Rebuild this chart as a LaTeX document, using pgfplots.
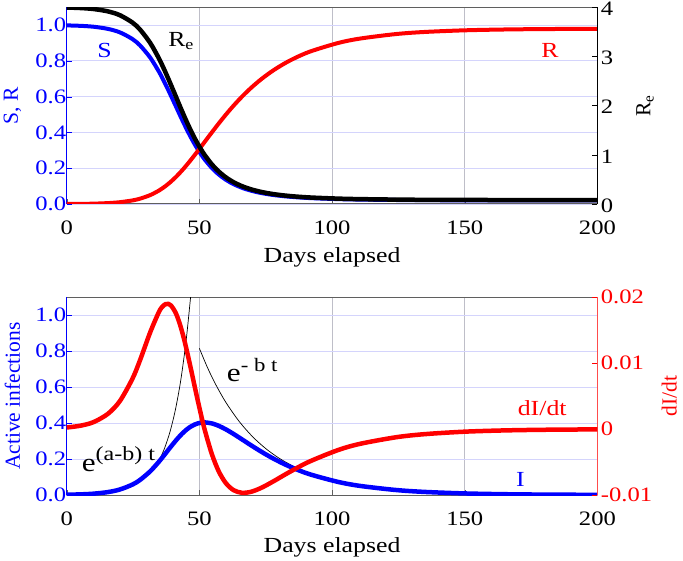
\documentclass[border=0pt]{standalone}
\usepackage{fontspec}
\setmainfont{Liberation Serif}[FakeStretch=1.2]
\newfontfamily\plainserif{Liberation Serif}
\usepackage{pgfplots}
\pgfplotsset{compat=1.18}
\usepackage{pgfplotstable}

\definecolor{myblue}{RGB}{0,0,255}
\definecolor{myred}{RGB}{255,0,0}
\definecolor{hgrid}{RGB}{212,212,252}
\definecolor{vgrid}{RGB}{190,190,200}
\definecolor{framec}{RGB}{95,95,95}

\newcommand\ftick{\fontsize{20.5}{24}\selectfont}
\newcommand\flab{\fontsize{21.5}{26}\selectfont}

\pgfplotstableread{
t S R I Re dI
0 0.99835 0.00000 0.00165 3.9934 0.000242
5 0.99596 0.00060 0.00344 3.9838 0.000503
10 0.99099 0.00184 0.00717 3.9640 0.001041
15.51 0.97883 0.005 0.01617 3.9153 0.002310
20.03 0.95944 0.01 0.03056 3.8378 0.004249
24.79 0.92182 0.02 0.05818 3.6873 0.007660
27.68 0.88568 0.03 0.08432 3.5427 0.010506
31.51 0.81759 0.05 0.13242 3.2703 0.014731
34.76 0.73978 0.075 0.18522 2.9591 0.017781
36.05 0.70370 0.0875 0.20880 2.8148 0.018568
37.22 0.66938 0.1 0.23062 2.6775 0.018957
38.28 0.63674 0.1125 0.25077 2.5469 0.019008
39.27 0.60568 0.125 0.26932 2.4227 0.018775
41.08 0.54804 0.15 0.30196 2.1922 0.017639
42.70 0.49589 0.175 0.32911 1.9836 0.015861
44.21 0.44870 0.2 0.35130 1.7948 0.013681
45.62 0.40600 0.225 0.36900 1.6240 0.011283
46.99 0.36736 0.25 0.38264 1.4695 0.008802
48.30 0.33241 0.275 0.39260 1.3296 0.006341
49.60 0.30077 0.3 0.39923 1.2031 0.003973
50.87 0.27215 0.325 0.40285 1.0886 0.001749
52.14 0.24625 0.35 0.40375 0.9850 -0.000297
54.69 0.20161 0.4 0.39839 0.8065 -0.003778
57.29 0.16507 0.45 0.38493 0.6603 -0.006408
60.01 0.13515 0.5 0.36485 0.5406 -0.008213
62.91 0.11065 0.55 0.33935 0.4426 -0.009269
66.06 0.09059 0.6 0.30941 0.3624 -0.009667
69.55 0.07417 0.65 0.27583 0.2967 -0.009506
73.52 0.06073 0.7 0.23928 0.2429 -0.008877
78.18 0.04972 0.75 0.20028 0.1989 -0.007862
83.88 0.04071 0.8 0.15930 0.1628 -0.006535
91.33 0.03333 0.85 0.11667 0.1333 -0.004955
102.31 0.02729 0.9 0.07271 0.1091 -0.003174
110.70 0.02469 0.925 0.05031 0.0988 -0.002222
124.17 0.02234 0.95 0.02766 0.0894 -0.001234
135 0.02127 0.96168 0.01705 0.0851 -0.000764
150 0.02055 0.97078 0.00867 0.0822 -0.000390
165 0.02018 0.97541 0.00441 0.0807 -0.000199
180 0.01999 0.97777 0.00224 0.0800 -0.000101
200 0.01988 0.97921 0.00091 0.0795 -0.000041
}\sirdata

\pgfplotstableread{
t E
33 0.1470
35 0.1973
37 0.2648
39 0.3553
41 0.4768
43 0.6399
45 0.8587
46.7 1.1023
47.2 1.1860
}\expgrow

\pgfplotstableread{
t E
50 0.816
53 0.7108
56 0.6192
60 0.5151
65 0.4093
70 0.3252
75 0.2584
80 0.2053
85 0.1631
90 0.1296
100 0.0818
110 0.0517
120 0.0326
}\expdecay

\pgfplotsset{
  base/.style={
    scale only axis, width=530.7pt,
    xmin=0, xmax=200,
    xtick={0,50,100,150,200},
    tick align=inside, major tick length=5pt,
    every tick label/.append style={font=\ftick},
    label style={font=\flab},
    scaled y ticks=false, scaled x ticks=false,
    clip=true,
  },
  leftax/.style={
    base,
    ymin=0, ymax=1.1,
    ytick={0,0.2,0.4,0.6,0.8,1.0},
    yticklabels={0.0,0.2,0.4,0.6,0.8,1.0},
    xticklabels={0,50,100,150,200},
    xtick pos=bottom, ytick pos=left,
    xmajorgrids, ymajorgrids,
    x grid style={vgrid, line width=0.6pt},
    y grid style={hgrid, line width=0.8pt},
    separate axis lines,
    x axis line style={framec, line width=1pt},
    y axis line style={myblue, line width=1pt},
    ytick style={myblue}, xtick style={framec},
    yticklabel style={myblue, xshift=3pt},
    xticklabel style={yshift=-13pt},
    xlabel={Days elapsed},
  },
  rightax/.style={
    base,
    axis x line=none, axis y line*=right,
    xtick=\empty,
  },
}

\begin{document}
\begin{tikzpicture}
\useasboundingbox (0,0) rectangle (683pt,560pt);

% ---------- top panel ----------
\begin{axis}[leftax, height=196.8pt, at={(66.7pt,356pt)}, anchor=south west,
  ylabel={S, R},
  ylabel style={myblue, font=\plainserif\flab, at={(axis description cs:-0.1025,0.5)}, anchor=center},
  xlabel style={at={(axis description cs:0.5,0)}, anchor=center, yshift=-53pt},
]
\addplot[myblue, line width=4pt, smooth] table[x=t, y=S] {\sirdata};
\addplot[myred, line width=4pt, smooth] table[x=t, y=R] {\sirdata};
\node[myblue, font=\flab] at (axis cs:14.3,0.86) {S};
\node[myred, font=\flab] at (axis cs:182.1,0.86) {R};
\node[black, font=\flab, anchor=base west, inner sep=0pt] at (axis cs:38.2,0.879) {R\textsubscript{e}};
\end{axis}
\begin{axis}[rightax, height=196.8pt, at={(66.7pt,356pt)}, anchor=south west,
  ymin=0, ymax=4, ytick={0,1,2,3,4}, yticklabels={0,1,2,3,4},
  yticklabel style={yshift=-1.5pt},
  y axis line style={black, line width=1pt}, ytick style={black},
  ylabel={R\textsubscript{e}},
  ylabel style={black, font=\plainserif\flab, at={(axis description cs:1.0897,0.5)}, anchor=center},
]
\addplot[black, line width=4.5pt, smooth] table[x=t, y=Re] {\sirdata};
\end{axis}

% ---------- bottom panel ----------
\begin{axis}[leftax, height=197.7pt, at={(66.7pt,65pt)}, anchor=south west,
  ylabel={Active infections},
  ylabel style={myblue, font=\plainserif\flab, at={(axis description cs:-0.1025,0.5)}, anchor=center},
  xlabel style={at={(axis description cs:0.5,0)}, anchor=center, yshift=-52pt},
]
\addplot[black, line width=0.7pt, smooth] table[x=t, y=E] {\expgrow};
\addplot[black, line width=0.7pt, smooth] table[x=t, y=E] {\expdecay};
\addplot[myblue, line width=4.5pt, smooth] table[x=t, y=I] {\sirdata};
\node[black, anchor=base west, inner sep=0pt, font=\fontsize{26}{30}\selectfont] at (axis cs:5.65,0.128)
  {e\raisebox{0.45em}{\fontsize{20}{24}\selectfont(a-b) t}};
\node[black, anchor=base west, inner sep=0pt, font=\fontsize{26}{30}\selectfont] at (axis cs:60.3,0.630)
  {e\raisebox{0.4em}{\fontsize{19}{24}\selectfont- b t}};
\node[myblue, font=\flab] at (axis cs:171,0.085) {I};
\end{axis}
\begin{axis}[rightax, height=197.7pt, at={(66.7pt,65pt)}, anchor=south west,
  ymin=-0.01, ymax=0.02, ytick={-0.01,0,0.01,0.02}, yticklabels={-0.01,0,0.01,0.02},
  y axis line style={myred!70, line width=1pt}, ytick style={myred},
  yticklabel style={myred},
  ylabel={dI/dt},
  ylabel style={myred, font=\plainserif\flab, at={(axis description cs:1.1355,0.5)}, anchor=center},
]
\addplot[myred, line width=4.5pt, smooth] table[x=t, y=dI] {\sirdata};
\node[myred, font=\flab] at (axis cs:179.2,0.0032) {dI/dt};
\end{axis}
\end{tikzpicture}
\end{document}
